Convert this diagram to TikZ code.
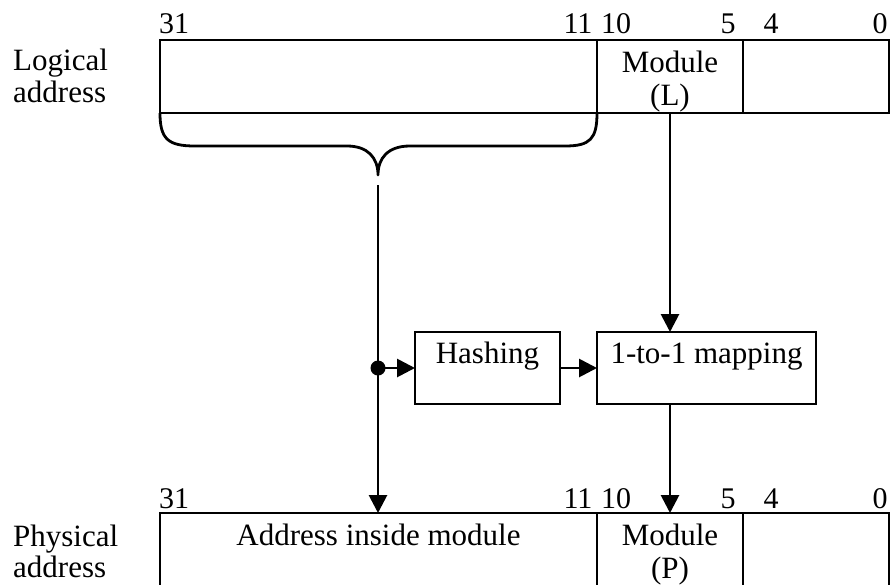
\documentclass[tikz,border=0pt]{standalone}
\usepackage{fontspec}
\setmainfont{Liberation Serif}
\usetikzlibrary{arrows.meta}
\begin{document}
\begin{tikzpicture}[x=1pt,y=-1pt,
  reg/.style={draw, line width=2.8pt, inner sep=0pt, outer sep=0pt, minimum height=73pt},
  proc/.style={draw, line width=2.8pt, inner sep=0pt, outer sep=0pt, minimum height=72pt},
  txt/.style={font=\fontsize{31}{34}\selectfont, inner sep=0pt, anchor=base},
  bit/.style={font=\fontsize{30}{32}\selectfont, inner sep=0pt, anchor=base},
  conn/.style={line width=2.8pt, -{Triangle[length=18pt,width=18pt]}},
  brace/.style={line width=2.8pt, line join=round},
]
\useasboundingbox (0,0) rectangle (891,584);

% logical address register
\node[reg, minimum width=437pt] (lhi)  at (378.5,76.5) {};
\node[reg, minimum width=146pt] (lmod) at (670,76.5) {};
\node[reg, minimum width=146pt] (llo)  at (816,76.5) {};
\node[txt] (lmodA) at (670,72) {Module};
\node[txt] (lmodB) at (670,105) {(L)};

% physical address register
\node[reg, minimum width=437pt] (phi)  at (378.5,549.5) {};
\node[reg, minimum width=146pt] (pmod) at (670,549.5) {};
\node[reg, minimum width=146pt] (plo)  at (816,549.5) {};
\node[txt] (phiA)  at (378.5,545) {Address inside module};
\node[txt] (pmodA) at (670,545) {Module};
\node[txt] (pmodB) at (670,578) {(P)};

% side captions
\node[txt, anchor=base west] (logA) at (13,70)  {Logical};
\node[txt, anchor=base west] (logB) at (13,102) {address};
\node[txt, anchor=base west] (phyA) at (13,546) {Physical};
\node[txt, anchor=base west] (phyB) at (13,577) {address};

% bit positions
\foreach \b/\x in {31/174, 11/578, 10/616, 5/728, 4/771, 0/880} {
  \node[bit] (tb\b) at (\x,33)  {\b};
  \node[bit] (bb\b) at (\x,508) {\b};
}

% processing stages
\node[proc, minimum width=145pt] (hash) at (487.5,368) {};
\node[txt] (hashT) at (487.5,363) {Hashing};
\node[proc, minimum width=219pt] (map) at (706.5,368) {};
\node[txt] (mapT) at (706.5,363) {1-to-1 mapping};

% brace under bits 31..11
\coordinate (btip) at (378,175);
\draw[brace] (lhi.south west) .. controls (160,139) and (168,146) .. (195,146)
  -- (347,146) .. controls (368,146) and (378,158) .. (btip)
  .. controls (378,158) and (388,146) .. (410,146)
  -- (565,146) .. controls (590,146) and (597,139) .. (lhi.south east);

% connectors
\coordinate (bstem) at (378,185);
\draw[conn] (bstem) -- (bstem |- phi.north);
\coordinate (split) at (bstem |- hash.west);
\fill (split) circle (7.5pt);
\draw[conn] (split) -- (hash.west);
\draw[conn] (hash.east) -- (map.west);
\draw[conn] (lmod.south) -- (lmod.south |- map.north);
\coordinate (mapout) at (lmod.south |- map.south);
\draw[conn] (mapout) -- (mapout |- pmod.north);
\end{tikzpicture}
\end{document}
